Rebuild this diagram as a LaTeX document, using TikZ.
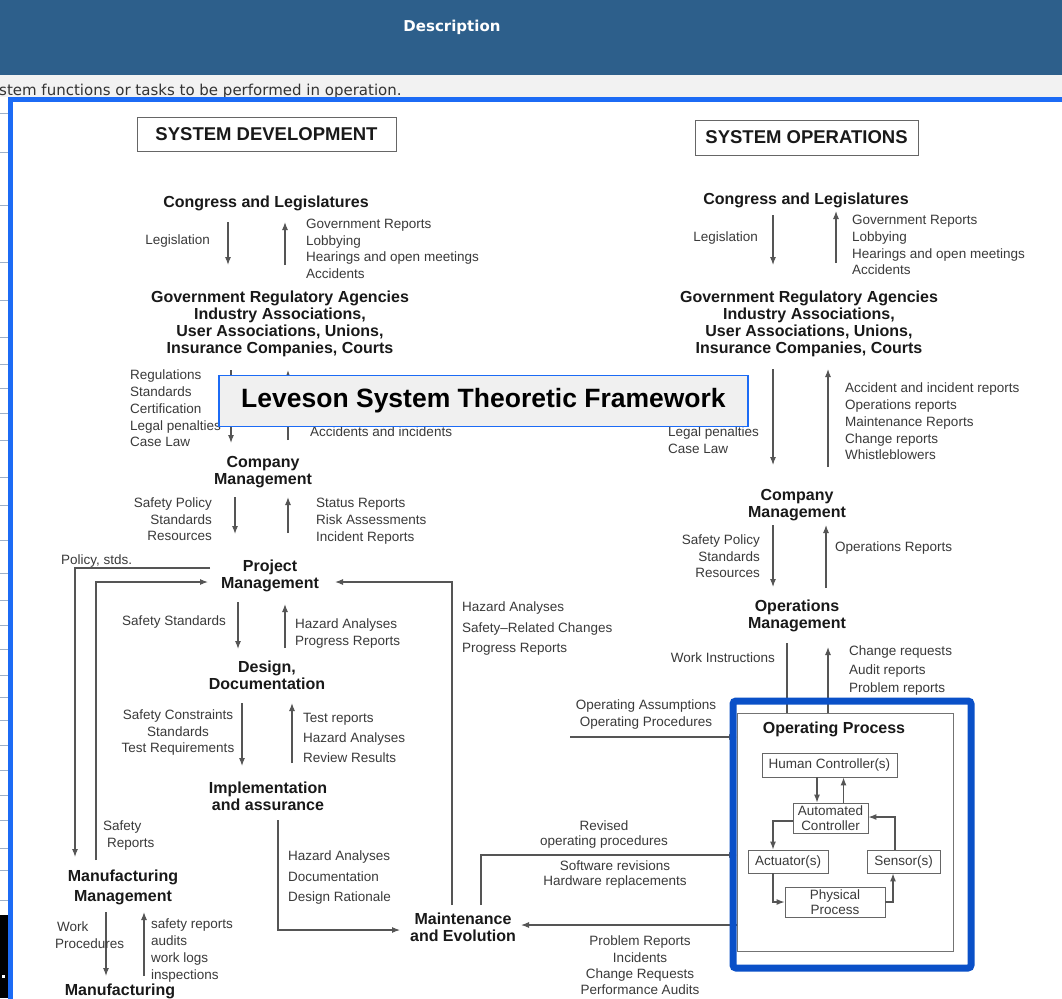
\documentclass[tikz,border=0pt]{standalone}
\usepackage{fontspec}
\setmainfont{Liberation Sans}
\newfontfamily\uifont{DejaVu Sans}
\usetikzlibrary{arrows.meta}
\definecolor{headerblue}{HTML}{2D5F8B}
\definecolor{rowgray}{HTML}{F2F2F2}
\definecolor{frameblue}{HTML}{1C6BF5}
\definecolor{procblue}{HTML}{0A50C8}
\definecolor{calloutfill}{HTML}{F0F0F0}
\definecolor{inkline}{HTML}{555555}
\definecolor{inktext}{HTML}{3A3A3A}
\definecolor{gridline}{HTML}{9DB0C8}
\begin{document}
\begin{tikzpicture}[x=1pt,y=-1pt,
  lbl/.style={inner sep=0pt, align=left, text=inktext, font=\fontsize{13.5}{17}\selectfont},
  hd/.style={inner sep=0pt, align=center, text=black!90, font=\fontsize{16}{17}\selectfont\bfseries},
  ln/.style={draw=inkline, line width=1.1pt},
  arr/.style={ln, -{Latex[length=8pt,width=6pt]}},
  sysbox/.style={draw=black!60, line width=1pt, inner sep=0pt, text=black!90, font=\fontsize{18.5}{20}\selectfont\bfseries},
  pbox/.style={draw=black!60, line width=0.9pt, inner sep=2pt, align=center, text=inktext, font=\fontsize{13.5}{14.5}\selectfont},
]
\useasboundingbox (0,0) rectangle (1062,998);
\clip (0,0) rectangle (1062,998);
\fill[white] (0,0) rectangle (1062,998);

% page header and table row
\fill[headerblue] (0,0) rectangle (1062,75);
\node[text=white, inner sep=0pt, font=\uifont\fontsize{15}{17}\selectfont\bfseries] (hdrtxt) at (452,27) {Description};
\fill[rowgray] (0,75) rectangle (1062,97);
\node[anchor=base west, inner sep=0pt, text=black!80, font=\uifont\fontsize{15}{17}\selectfont] (rowtxt) at (-1,95) {stem functions or tasks to be performed in operation.};

% table edge on the left
\foreach \yy in {113,152,205,262,300,337,364,388,413,440,477,505,540,573,600,625,649,675,697,720,745,770,795,820,848,870,900}
  \draw[gridline, line width=0.8pt] (0,\yy) -- (8,\yy);
\fill[black] (0,915) rectangle (8,998);
\fill[white] (2,975) rectangle (5,978);

% outer frame
\draw[frameblue, line width=5pt] (10.5,1010) -- (10.5,99.5) -- (1070,99.5);

% ---------------- system development ----------------
\node[sysbox, minimum width=259pt, minimum height=34pt] (sysdev) at (266.5,134) {SYSTEM DEVELOPMENT};

\node[hd, anchor=north] (dcong) at (266,196) {Congress and Legislatures};
\node[hd, anchor=north] (dgov) at (280,291) {Government Regulatory Agencies\\Industry Associations,\\User Associations, Unions,\\Insurance Companies, Courts};
\node[hd, anchor=north] (dcomp) at (263,456) {Company\\Management};
\node[hd, anchor=north] (dproj) at (270,560) {Project\\Management};
\node[hd, anchor=north] (ddes) at (267,661) {Design,\\Documentation};
\node[hd, anchor=north] (dimp) at (268,782) {Implementation\\and assurance};
\node[hd, anchor=north, font=\fontsize{16}{19.5}\selectfont\bfseries] (dmfgm) at (123,870) {Manufacturing\\Management};
\node[hd, anchor=north] (dmfg) at (120,984) {Manufacturing};
\node[hd, anchor=north] (maint) at (463,913) {Maintenance\\and Evolution};

% congress <-> agencies
\draw[arr] (228,222) -- (228,265);
\draw[arr] (285,265) -- (285,222);
\node[lbl, anchor=north east] (dleg) at (210,235) {Legislation};
\node[lbl, anchor=north west, font=\fontsize{13.5}{16.5}\selectfont] (dgovrep) at (306,219) {Government Reports\\Lobbying\\Hearings and open meetings\\Accidents};

% agencies <-> company
\draw[arr] (231,370) -- (231,443);
\draw[arr] (288,440) -- (288,370);
\node[lbl, anchor=north west, font=\fontsize{13.5}{16.7}\selectfont] (dregs) at (130,370) {Regulations\\Standards\\Certification\\Legal penalties\\Case Law};
\node[lbl, anchor=north west] (dacc) at (310,427) {Accidents and incidents};

% company <-> project
\draw[arr] (235,497) -- (235,534);
\draw[arr] (288,533) -- (288,497);
\node[lbl, anchor=north east, align=right, font=\fontsize{13.5}{16.5}\selectfont] (dpol) at (212,498) {Safety Policy\\Standards\\Resources};
\node[lbl, anchor=north west] (dstat) at (316,498) {Status Reports\\Risk Assessments\\Incident Reports};

% project <-> design
\draw[arr] (238,602) -- (238,649);
\draw[arr] (285,648) -- (285,604);
\node[lbl, anchor=north east] (dsafstd) at (226,616) {Safety Standards};
\node[lbl, anchor=north west] (dhaz) at (295,619) {Hazard Analyses\\Progress Reports};

% design <-> implementation
\draw[arr] (242,703) -- (242,766);
\draw[arr] (292,763) -- (292,703);
\node[lbl, anchor=north, align=center, font=\fontsize{13.5}{16.5}\selectfont] (dcons) at (178,710) {Safety Constraints\\Standards\\Test Requirements};
\node[lbl, anchor=north west, font=\fontsize{13.5}{20}\selectfont] (dtest) at (303,713) {Test reports\\Hazard Analyses\\Review Results};

% policy down to manufacturing, safety reports up to project
\node[lbl, anchor=north west] (dpolstd) at (61,555) {Policy, stds.};
\draw[arr] (210,568) -- (75,568) -- (75,857);
\draw[arr] (96,860) -- (96,582) -- (208,582);
\node[lbl, anchor=north west] (dsafrep) at (103,821) {Safety\\\hspace*{4pt}Reports};

% maintenance feedback to project
\draw[arr] (452,905) -- (452,582) -- (335,582);
\node[lbl, anchor=north west, font=\fontsize{13.5}{20.5}\selectfont] (dmaintrep) at (462,602) {Hazard Analyses\\Safety--Related Changes\\Progress Reports};

% implementation to maintenance
\draw[arr] (278,820) -- (278,930) -- (400,930);
\node[lbl, anchor=north west, font=\fontsize{13.5}{20.5}\selectfont] (ddoc) at (288,851) {Hazard Analyses\\Documentation\\Design Rationale};

% manufacturing management <-> manufacturing
\draw[arr] (106,912) -- (106,976);
\draw[arr] (144,976) -- (144,912);
\node[lbl, anchor=north west] (dwork) at (55,922) {\hspace*{2pt}Work\\Procedures};
\node[lbl, anchor=north west] (dmfgrep) at (151,919) {safety reports\\audits\\work logs\\inspections};

% ---------------- system operations ----------------
\node[sysbox, minimum width=223pt, minimum height=35pt] (sysops) at (806.5,137.5) {SYSTEM OPERATIONS};

\node[hd, anchor=north] (ocong) at (806,193) {Congress and Legislatures};
\node[hd, anchor=north] (ogov) at (809,291) {Government Regulatory Agencies\\Industry Associations,\\User Associations, Unions,\\Insurance Companies, Courts};
\node[hd, anchor=north] (ocomp) at (797,489) {Company\\Management};
\node[hd, anchor=north] (oops) at (797,600) {Operations\\Management};

% congress <-> agencies
\draw[arr] (773,215) -- (773,265);
\draw[arr] (836,263) -- (836,211);
\node[lbl, anchor=north east] (oleg) at (758,232) {Legislation};
\node[lbl, anchor=north west, font=\fontsize{13.5}{16.7}\selectfont] (ogovrep) at (852,215) {Government Reports\\Lobbying\\Hearings and open meetings\\Accidents};

% agencies <-> company
\draw[arr] (773,369) -- (773,465);
\draw[arr] (828,467) -- (828,369);
\node[lbl, anchor=north west] (olegal) at (668,427) {Legal penalties\\Case Law};
\node[lbl, anchor=north west, font=\fontsize{13.5}{16.75}\selectfont] (oaccrep) at (845,383) {Accident and incident reports\\Operations reports\\Maintenance Reports\\Change reports\\Whistleblowers};

% company <-> operations management
\draw[arr] (773,525) -- (773,587);
\draw[arr] (826,588) -- (826,525);
\node[lbl, anchor=north east, align=right, font=\fontsize{13.5}{16.5}\selectfont] (opol) at (760,535) {Safety Policy\\Standards\\Resources};
\node[lbl, anchor=north west] (oopsrep) at (835,542) {Operations Reports};

% operating process
\node[draw=black!55, line width=1pt, minimum width=216pt, minimum height=238pt, inner sep=0pt] (opbox) at (845,832) {};
\node[hd, anchor=north] (opp) at (834,722) {Operating Process};
\node[pbox, minimum width=135pt, minimum height=24pt] (hc) at (829.5,765) {Human Controller(s)};
\node[pbox, minimum width=75pt, minimum height=30pt] (ac) at (830.5,818) {Automated\\Controller};
\node[pbox, minimum width=80pt, minimum height=23pt] (act) at (788,861.5) {Actuator(s)};
\node[pbox, minimum width=73pt, minimum height=23pt] (sen) at (903.5,861.5) {Sensor(s)};
\node[pbox, minimum width=100pt, minimum height=30pt] (phys) at (835,902) {Physical\\Process};

\draw[arr] ([xshift=-12.5pt]hc.south) -- ([xshift=-12.5pt]hc.south |- ac.north);
\draw[arr] ([xshift=13pt]ac.north) -- ([xshift=13pt]ac.north |- hc.south);
\draw[arr] ([yshift=-3pt]ac.west) -| ([xshift=-15pt]act.north);
\draw[arr] ([xshift=-8.5pt]sen.north) |- ([yshift=1pt]ac.east);
\draw[arr] ([xshift=-15pt]act.south) |- (phys.west);
\draw[arr] (phys.east) -| ([xshift=-10.5pt]sen.south);

% operations management <-> operating process
\draw[ln] (787,643) -- (787,713);
\draw[arr] (828,713) -- (828,647);
\node[lbl, anchor=north east] (owork) at (775,653) {Work Instructions};
\node[lbl, anchor=north west, font=\fontsize{13.5}{18.5}\selectfont] (ochg) at (849,646) {Change requests\\Audit reports\\Problem reports};

% inputs to the operating process
\draw[arr] (570,737) -- (737,737);
\node[lbl, anchor=north, align=center] (oassum) at (646,700) {Operating Assumptions\\Operating Procedures};
\draw[arr] (481,905) -- (481,855) -- (737,855);
\node[lbl, anchor=north, align=center, font=\fontsize{13.5}{15}\selectfont] (orev) at (604,821) {Revised\\operating procedures};
\node[lbl, anchor=north, align=center, font=\fontsize{13.5}{14.5}\selectfont] (osoft) at (615,861) {Software revisions\\Hardware replacements};

% feedback from the operating process to maintenance
\draw[arr] (737,925) -- (521,925);
\node[lbl, anchor=north, align=center, font=\fontsize{13.5}{16.3}\selectfont] (oprob) at (640,936) {Problem Reports\\Incidents\\Change Requests\\Performance Audits};

% highlight around the operating process
\node[draw=procblue, line width=7pt, rounded corners=3pt, minimum width=238pt, minimum height=267pt, inner sep=0pt] (opframe) at (852,834.5) {};

% title callout
\node[draw=frameblue, line width=1.5pt, fill=calloutfill, minimum width=529pt, minimum height=51pt, inner sep=0pt, text=black, font=\fontsize{26.5}{28}\selectfont\bfseries] (callout) at (483.5,401) {Leveson System Theoretic Framework};
\end{tikzpicture}
\end{document}
